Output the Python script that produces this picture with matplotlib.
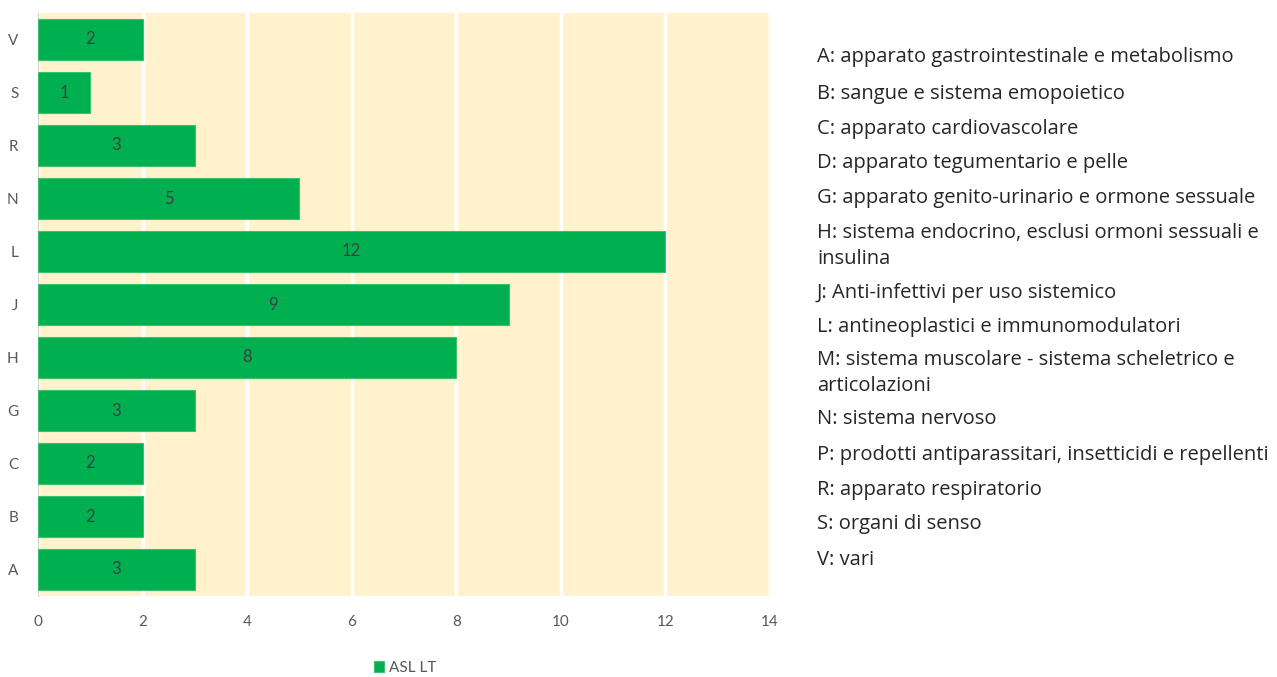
import matplotlib.pyplot as plt

categories = ['A', 'B', 'C', 'G', 'H', 'J', 'L', 'N', 'R', 'S', 'V']
values = [3, 2, 2, 3, 8, 9, 12, 5, 3, 1, 2]
series_name = 'ASL LT'
xticks = [0, 2, 4, 6, 8, 10, 12, 14]

glossary = [
    'A: apparato gastrointestinale e metabolismo',
    'B: sangue e sistema emopoietico',
    'C: apparato cardiovascolare',
    'D: apparato tegumentario e pelle',
    'G: apparato genito-urinario e ormone sessuale',
    'H: sistema endocrino, esclusi ormoni sessuali e\ninsulina',
    'J: Anti-infettivi per uso sistemico',
    'L: antineoplastici e immunomodulatori',
    'M: sistema muscolare - sistema scheletrico e\narticolazioni',
    'N: sistema nervoso',
    'P: prodotti antiparassitari, insetticidi e repellenti',
    'R: apparato respiratorio',
    'S: organi di senso',
    'V: vari',
]
glossary_y = [57, 94, 129, 163, 198, 246, 293, 327, 373, 419, 455, 490, 524, 560]

plt.rcParams['font.family'] = ['Lato', 'DejaVu Sans']

fig = plt.figure(figsize=(12.77, 6.77), dpi=100)
ax = fig.add_axes([38 / 1277, 1 - 596 / 677, 732 / 1277, 583 / 677])
ax.set_facecolor('#FFF2CC')

pos = range(len(categories))
bars = ax.barh(pos, values, height=0.79, color='#00B050', edgecolor='#3CC06A',
               linewidth=0.8, zorder=3, label=series_name)
for b, v in zip(bars, values):
    ax.text(v / 2, b.get_y() + b.get_height() / 2, str(v), ha='center', va='center',
            fontsize=12, color='#404040', zorder=4)

ax.set_xlim(0, 14)
ax.set_ylim(-0.5, len(categories) - 0.5)
ax.set_xticks(xticks)
ax.set_yticks(list(pos))
ax.set_yticklabels(categories)
ax.xaxis.grid(True, color='white', linewidth=2.5, zorder=1)
ax.set_axisbelow(True)
for s in ['top', 'right', 'bottom']:
    ax.spines[s].set_visible(False)
ax.spines['left'].set_color('#D0D0D0')
ax.tick_params(axis='both', length=0, colors='#595959', labelsize=11)
ax.tick_params(axis='x', pad=14)
ax.tick_params(axis='y', pad=14)

fig.legend(loc='center', bbox_to_anchor=(405 / 1277, 1 - 668 / 677), frameon=False,
           fontsize=11, labelcolor='#595959', handlelength=0.7, handleheight=0.7,
           handletextpad=0.3)

for txt, y in zip(glossary, glossary_y):
    fig.text(817 / 1277, 1 - y / 677, txt, ha='left', va='center', fontsize=14.5,
             color='#262626', linespacing=1.4, family=['Open Sans', 'DejaVu Sans'])

fig.savefig('out.png', dpi=100)
